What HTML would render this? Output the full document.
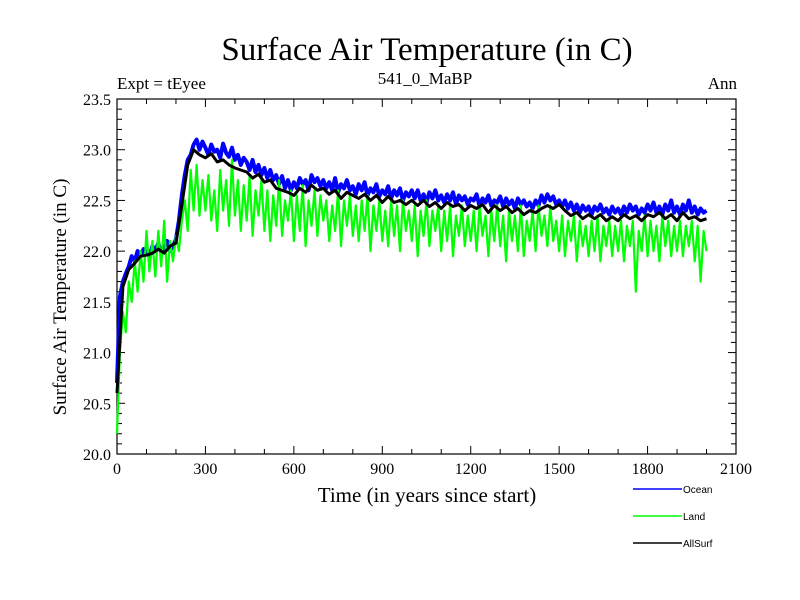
<!DOCTYPE html>
<html><head><meta charset="utf-8"><style>
html,body{margin:0;padding:0;background:#fff;}
svg{display:block;font-family:"Liberation Serif",serif;}
</style></head><body>
<svg id="chart" width="800" height="600" xmlns="http://www.w3.org/2000/svg">
<rect width="800" height="600" fill="#fff"/>
<text x="427" y="60" font-size="33" text-anchor="middle">Surface Air Temperature (in C)</text>
<text x="117" y="89" font-size="17">Expt = tEyee</text>
<text x="425" y="84" font-size="17" text-anchor="middle">541_0_MaBP</text>
<text x="737" y="89" font-size="17" text-anchor="end">Ann</text>
<text transform="translate(66,297) rotate(-90)" font-size="19" text-anchor="middle">Surface Air Temperature (in C)</text>
<text x="427" y="502" font-size="21" text-anchor="middle">Time (in years since start)</text>
<g id="axes"></g>
<g id="series"></g>
<g font-family="Liberation Sans, sans-serif" font-size="10">
<g><line x1="633" y1="489" x2="682" y2="489" stroke="#0000ff" stroke-width="1.5"/><text x="683" y="493">Ocean</text></g>
<g><line x1="633" y1="516" x2="682" y2="516" stroke="#00ff00" stroke-width="1.5"/><text x="683" y="520">Land</text></g>
<g><line x1="633" y1="543" x2="682" y2="543" stroke="#000" stroke-width="1.5"/><text x="683" y="547">AllSurf</text></g>
</g>
</svg>
<script>
const xTicks=[0,300,600,900,1200,1500,1800,2100];
const yTicks=[20.0,20.5,21.0,21.5,22.0,22.5,23.0,23.5];
const oceanVals=[20.7,21.55,21.7,21.78,21.85,21.95,21.9,22.0,21.95,22.02,22.0,
21.95,22.05,22.0,22.08,21.98,22.03,22.1,22.0,22.05,22.12,
22.3,22.55,22.75,22.9,22.95,23.05,23.1,23.0,23.08,23.02,
22.95,23.05,22.98,23.0,22.92,23.06,22.97,22.93,23.02,22.9,
22.95,22.85,22.92,22.88,22.8,22.9,22.78,22.85,22.75,22.82,
22.72,22.8,22.7,22.75,22.66,22.74,22.62,22.7,22.6,22.68,
22.62,22.72,22.66,22.7,22.6,22.75,22.68,22.72,22.64,22.7,
22.62,22.68,22.6,22.72,22.58,22.66,22.62,22.7,22.6,22.64,
22.56,22.66,22.6,22.68,22.55,22.62,22.58,22.66,22.54,22.6,
22.56,22.64,22.52,22.6,22.55,22.62,22.5,22.58,22.54,22.6,
22.52,22.6,22.5,22.56,22.48,22.58,22.52,22.6,22.5,22.55,
22.48,22.56,22.5,22.58,22.46,22.55,22.5,22.54,22.46,22.52,
22.5,22.56,22.44,22.52,22.48,22.55,22.45,22.5,22.48,22.54,
22.44,22.52,22.46,22.5,22.42,22.52,22.46,22.5,22.44,22.48,
22.42,22.5,22.45,22.55,22.48,22.56,22.5,22.54,22.46,22.5,
22.44,22.5,22.42,22.48,22.4,22.46,22.38,22.45,22.4,22.44,
22.36,22.44,22.4,22.46,22.38,22.42,22.36,22.44,22.38,22.42,
22.36,22.44,22.38,22.46,22.4,22.44,22.36,22.42,22.38,22.46,
22.4,22.48,22.38,22.44,22.36,22.46,22.4,22.5,22.38,22.44,
22.36,22.46,22.4,22.5,22.38,22.44,22.36,22.42,22.38,22.4];
const oceanStep=10;
const landVals=[20.2,21.0,21.4,21.2,21.7,21.5,21.9,21.6,22.0,21.7,22.2,
21.8,22.1,21.75,22.2,21.85,22.3,21.7,22.1,21.9,22.15,
22.0,22.3,22.5,22.2,22.8,22.4,22.85,22.35,22.7,22.4,
22.75,22.3,22.6,22.2,22.8,22.4,22.7,22.25,22.9,22.35,
22.7,22.2,22.65,22.3,22.75,22.15,22.6,22.35,22.7,22.2,
22.6,22.1,22.55,22.25,22.7,22.15,22.5,22.3,22.6,22.1,
22.55,22.2,22.65,22.05,22.5,22.25,22.6,22.15,22.55,22.3,
22.5,22.1,22.45,22.2,22.6,22.05,22.5,22.25,22.55,22.15,
22.45,22.1,22.5,22.2,22.55,22.0,22.45,22.2,22.5,22.1,
22.4,22.05,22.5,22.15,22.45,22.0,22.5,22.2,22.4,22.1,
22.45,21.95,22.4,22.15,22.5,22.05,22.4,22.2,22.45,22.0,
22.4,22.1,22.45,21.95,22.35,22.15,22.45,22.05,22.35,22.1,
22.4,22.0,22.45,22.15,22.35,21.95,22.4,22.1,22.45,22.05,
22.35,21.9,22.4,22.1,22.35,22.0,22.45,21.95,22.3,22.1,
22.4,22.0,22.45,22.15,22.35,22.05,22.45,22.1,22.3,22.0,
22.35,21.95,22.3,22.1,22.35,21.9,22.3,22.05,22.25,21.95,
22.3,22.0,22.35,21.9,22.25,22.05,22.3,21.95,22.25,22.0,
22.3,21.9,22.25,22.05,22.3,21.6,22.2,22.0,22.35,21.95,
22.3,22.0,22.25,21.9,22.35,22.05,22.3,21.95,22.25,22.0,
22.3,21.95,22.25,22.05,22.3,21.9,22.25,21.7,22.2,22.0];
const landStep=10;
const allVals=[20.6,21.65,21.82,21.88,21.95,21.96,21.98,22.02,21.98,22.05,22.08,
22.45,22.85,23.0,22.95,22.92,22.96,22.88,22.9,22.85,22.82,
22.8,22.78,22.72,22.76,22.68,22.7,22.62,22.6,22.58,22.55,
22.62,22.58,22.65,22.6,22.62,22.56,22.6,22.52,22.58,22.55,
22.52,22.56,22.5,22.55,22.48,22.54,22.48,22.5,22.46,22.5,
22.45,22.5,22.44,22.48,22.42,22.48,22.44,22.46,22.4,22.45,
22.42,22.46,22.38,22.45,22.4,22.44,22.38,22.42,22.36,22.4,
22.38,22.42,22.45,22.42,22.46,22.4,22.35,22.38,22.32,22.36,
22.32,22.36,22.3,22.34,22.3,22.36,22.32,22.35,22.3,22.36,
22.34,22.38,22.32,22.36,22.3,22.38,22.32,22.34,22.3,22.32];
const allStep=20;

const L=117,R=736,T=99,B=454;
const xMin=0,xMax=2100,yMin=20,yMax=23.5;
const xs=v=>L+(v-xMin)/(xMax-xMin)*(R-L);
const ys=v=>B-(v-yMin)/(yMax-yMin)*(B-T);
const NS="http://www.w3.org/2000/svg";
function mk(tag,attrs,parent){const e=document.createElementNS(NS,tag);for(const k in attrs)e.setAttribute(k,attrs[k]);parent.appendChild(e);return e;}
const axes=document.getElementById('axes');
const frame=mk('rect',{x:L,y:T,width:R-L,height:B-T,fill:'none',stroke:'#000','stroke-width':1.2},axes);


for(let v=0;v<=2100;v+=100){const major=v%300===0;const len=major?8:5;
 mk('line',{x1:xs(v),x2:xs(v),y1:B,y2:B-len,stroke:'#000'},axes);
 mk('line',{x1:xs(v),x2:xs(v),y1:T,y2:T+len,stroke:'#000'},axes);}
for(let i=0;i<=35;i++){const v=20+i*0.1;const len=(i%5===0)?8:5;
 mk('line',{x1:L,x2:L+len,y1:ys(v),y2:ys(v),stroke:'#000'},axes);
 mk('line',{x1:R,x2:R-len,y1:ys(v),y2:ys(v),stroke:'#000'},axes);}
xTicks.forEach(v=>{const t=mk('text',{x:xs(v),y:B+20,'font-size':16,'text-anchor':'middle'},axes);t.textContent=String(v);
 
 });
yTicks.forEach(v=>{const t=mk('text',{x:L-6,y:ys(v)+6,'font-size':16,'text-anchor':'end'},axes);t.textContent=v.toFixed(1);
 
 });
const sg=document.getElementById('series');
function draw(vals,step,color,name,w){const d=vals.map((v,i)=>(i?'L':'M')+xs(i*step).toFixed(1)+','+ys(v).toFixed(1)).join('');
 const p=mk('path',{d:d,fill:'none',stroke:color,'stroke-width':w,'stroke-linejoin':'round'},sg);
 
 }
draw(oceanVals,oceanStep,'#0000ff','ocean-line',4);
draw(landVals,landStep,'#00ff00','land-line',2.2);
draw(allVals,allStep,'#000000','allsurf-line',3);
</script>
</body></html>
